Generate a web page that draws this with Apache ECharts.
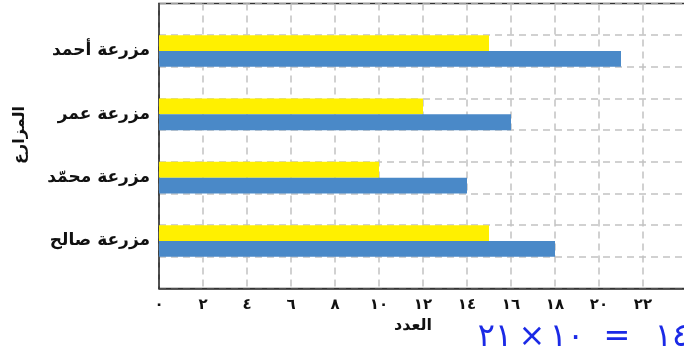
<!DOCTYPE html>
<html>
<head>
<meta charset="utf-8">
<script src="https://cdn.jsdelivr.net/npm/echarts@6/dist/echarts.min.js"></script>
<style>
  html, body { margin: 0; padding: 0; background: #fff; overflow: hidden; }
  /* the plot runs slightly past the right edge of the page */
  #chart { width: 687px; height: 352px; }
</style>
</head>
<body>
<div id="chart"></div>
<script>
// Farms, listed from top to bottom
const farms = ['مزرعة أحمد', 'مزرعة عمر', 'مزرعة محمّد', 'مزرعة صالح'];
// Yellow bars and blue bars, one value per farm
const yellowValues = [15, 12, 10, 15];
const blueValues = [21, 16, 14, 18];
// Tick labels of the count axis (0, 2, 4, ... 24)
const xTickLabels = ['٠', '٢', '٤', '٦', '٨', '١٠', '١٢', '١٤', '١٦', '١٨', '٢٠', '٢٢', '٢٤'];
const xAxisTitle = 'العدد';
const yAxisTitle = 'المزارع';
// Handwritten note under the axis, written left to right
const noteParts = ['٢١', '×', '١٠', '=', '١٤'];

// Each farm sits in its own row with an empty row between farms,
// so the dashed grid runs at every row edge.
const slots = [''];
const yellowSlots = ['-'];
const blueSlots = ['-'];
farms.forEach((f, i) => {
  slots.push(f, '');
  yellowSlots.push(yellowValues[i], '-');
  blueSlots.push(blueValues[i], '-');
});

const chart = echarts.init(document.getElementById('chart'), null, { renderer: 'canvas' });
const font = '"DejaVu Sans", sans-serif';

// loose, hand-spaced placement of the note's pieces
const notePos = [495, 532, 567, 617, 672];
const noteGraphics = noteParts.map((t, i) => ({
  type: 'text', x: notePos[i], y: 338,
  style: {
    text: '\u202D' + t + '\u202C', font: 'normal 32px ' + font,
    fill: '#1b2ae6', align: 'center', verticalAlign: 'middle'
  }
}));

chart.setOption({
  animation: false,
  backgroundColor: '#fff',
  grid: {
    left: 159, right: 0, top: 3.5, bottom: 63.5,
    show: true, borderColor: '#333', borderWidth: 1.5, backgroundColor: 'transparent'
  },
  xAxis: {
    type: 'value', min: 0, max: 24, interval: 2,
    axisLine: { show: true, lineStyle: { color: '#333', width: 1.5 } },
    axisTick: { show: false },
    splitLine: { show: true, lineStyle: { color: '#c2c2c2', type: [7, 5], width: 1.5 } },
    axisLabel: {
      showMaxLabel: false, margin: 9, color: '#111',
      fontFamily: font, fontWeight: 'bold', fontSize: 15,
      formatter: v => xTickLabels[Math.round(v / 2)]
    }
  },
  yAxis: {
    type: 'category', data: slots, inverse: true,
    axisLine: { show: true, lineStyle: { color: '#333', width: 1.5 } },
    axisTick: { show: false },
    splitLine: { show: true, interval: 0, lineStyle: { color: '#c2c2c2', type: [7, 5], width: 1.5 } },
    axisLabel: {
      interval: 0, margin: 9, color: '#111',
      fontFamily: font, fontWeight: 'bold', fontSize: 17
    }
  },
  series: [
    {
      name: 'yellow', type: 'bar', data: yellowSlots,
      barCategoryGap: 0, barGap: 0,
      itemStyle: { color: '#FFF000' }
    },
    {
      name: 'blue', type: 'bar', data: blueSlots,
      barCategoryGap: 0, barGap: 0,
      itemStyle: { color: '#4A89C8' }
    }
  ],
  graphic: [
    {
      type: 'text', x: 413, y: 326,
      style: { text: xAxisTitle, font: 'bold 16px ' + font, fill: '#111', align: 'center', verticalAlign: 'middle' }
    },
    {
      type: 'text', x: 20, y: 135, rotation: Math.PI / 2,
      style: { text: yAxisTitle, font: 'bold 16px ' + font, fill: '#111', align: 'center', verticalAlign: 'middle' }
    }
  ].concat(noteGraphics)
});
</script>
</body>
</html>
